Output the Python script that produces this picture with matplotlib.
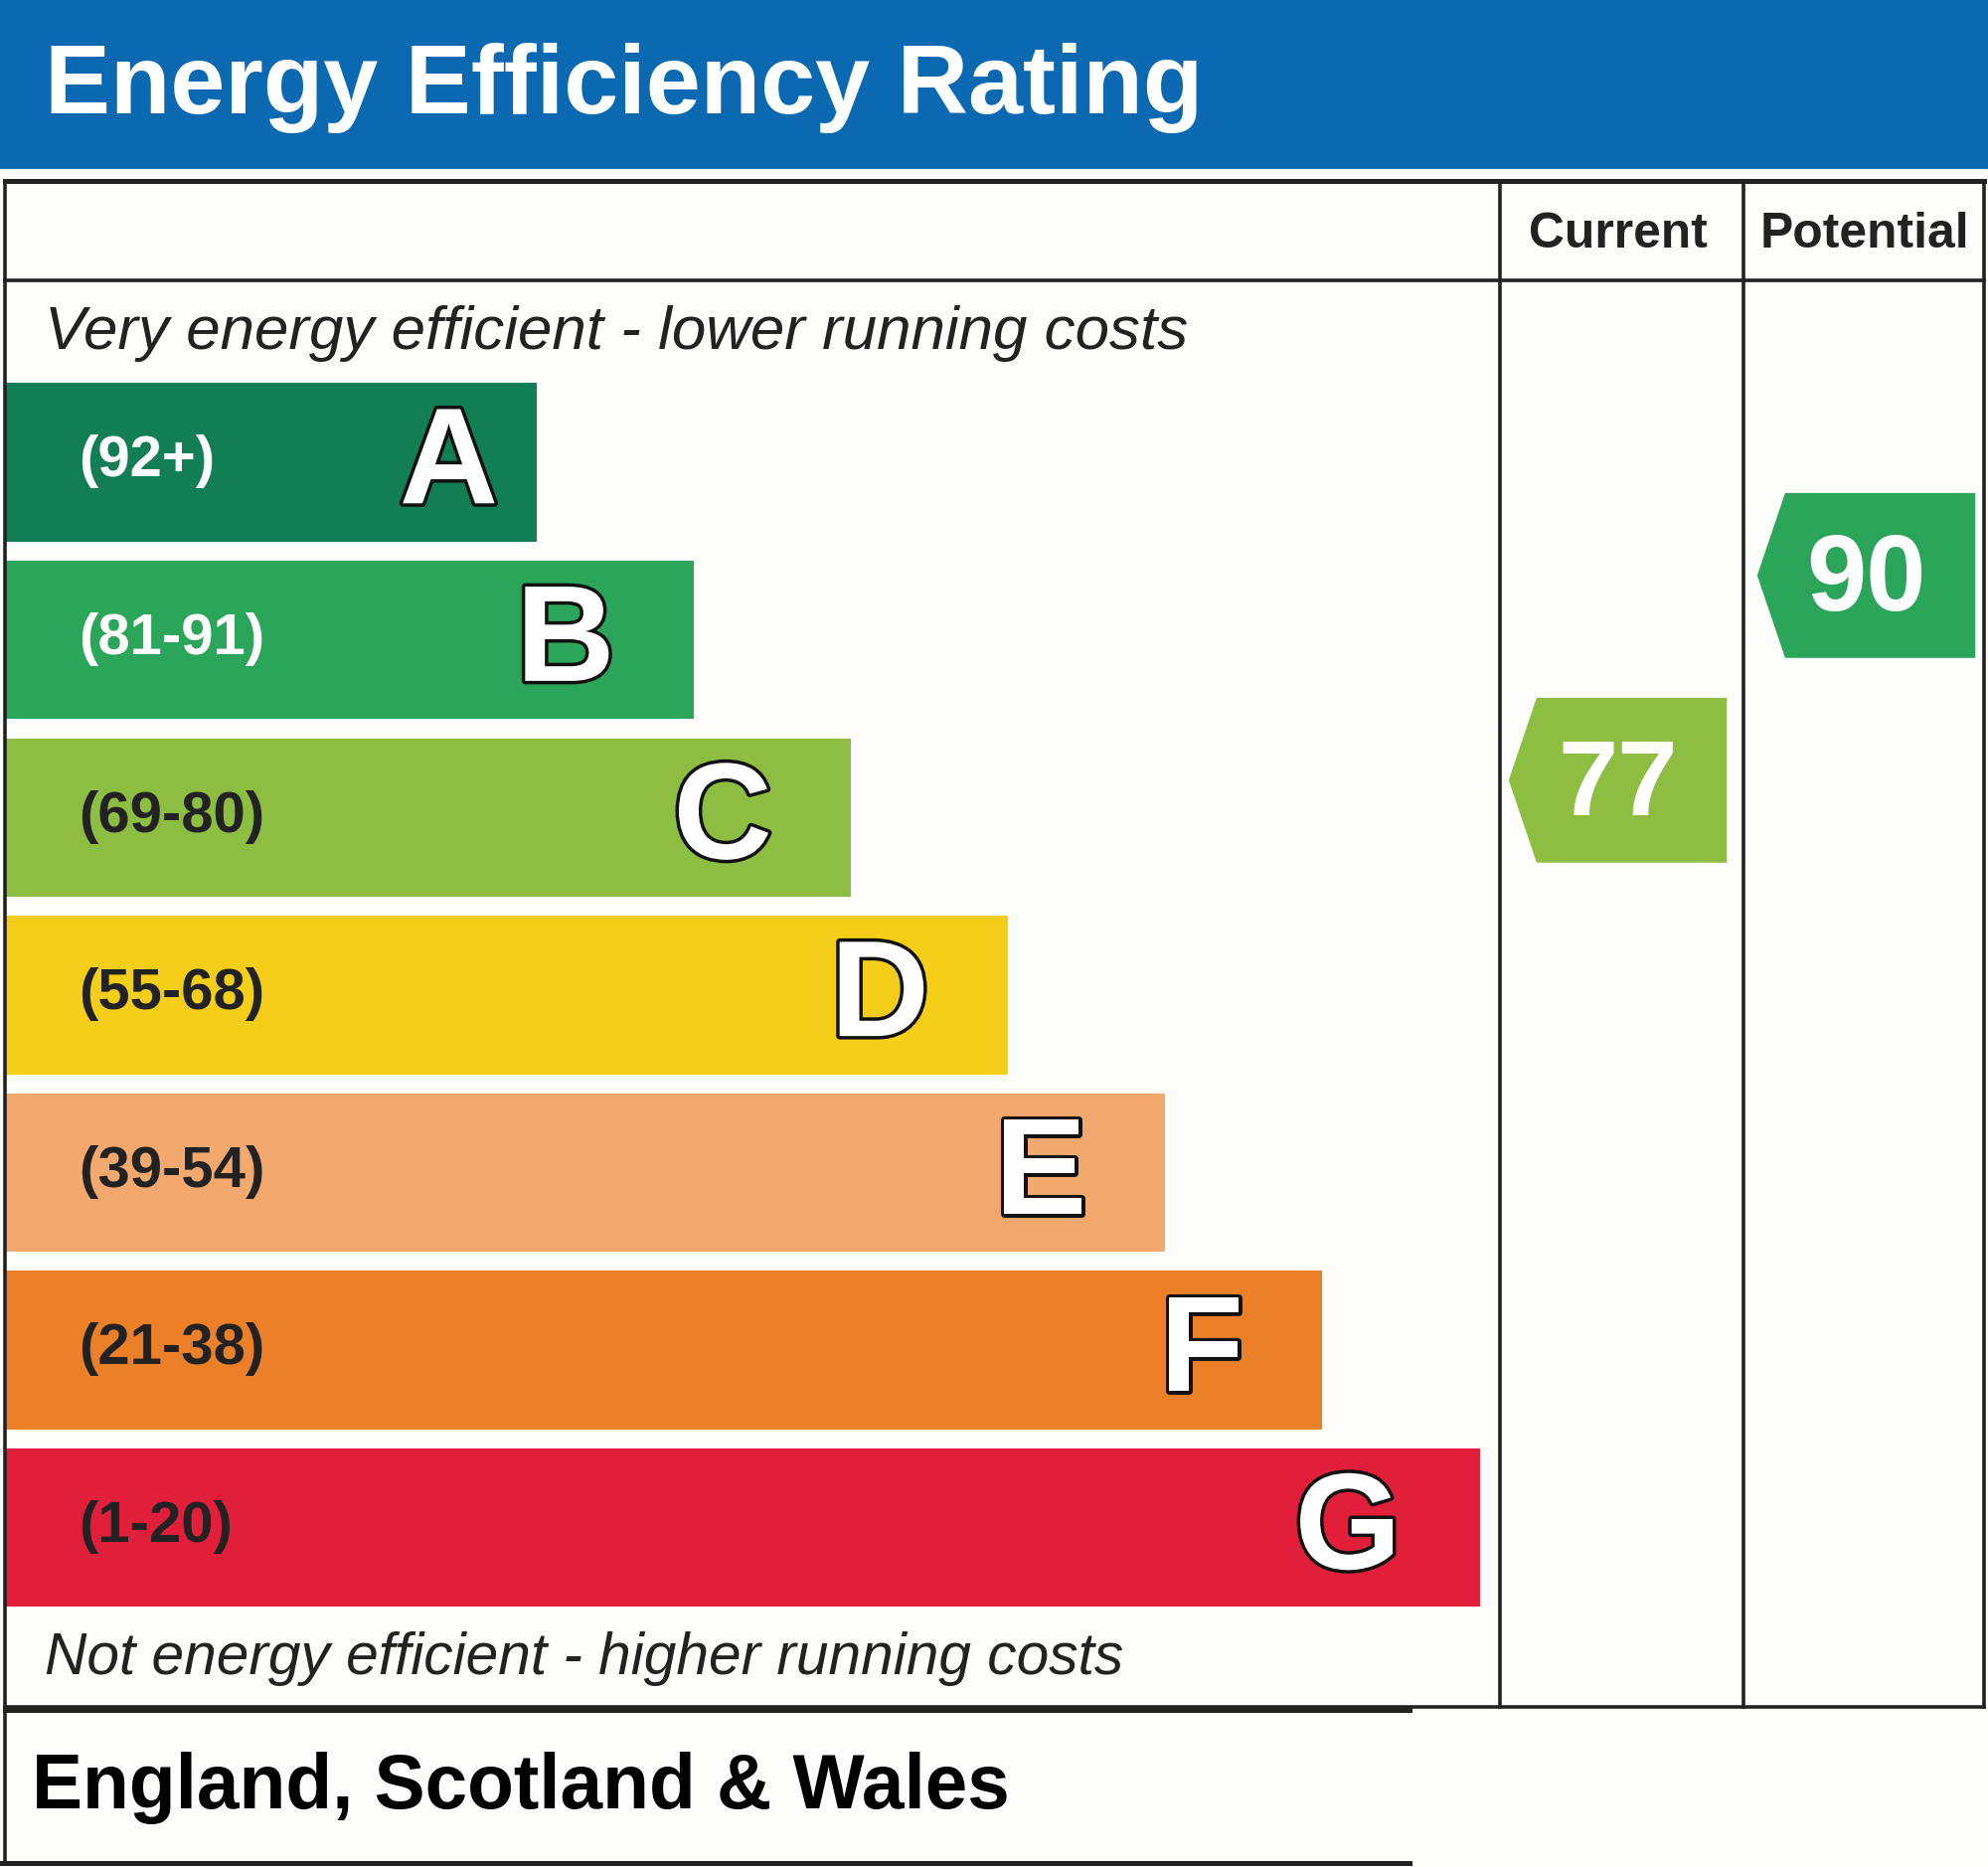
import numpy as np
import matplotlib.pyplot as plt
import matplotlib.patheffects as pe
from matplotlib.patches import Rectangle, Polygon

# data
bands = ['A', 'B', 'C', 'D', 'E', 'F', 'G']
ranges = ['(92+)', '(81-91)', '(69-80)', '(55-68)', '(39-54)', '(21-38)', '(1-20)']
band_colors = ['#117e55', '#2aa55a', '#8dbd41', '#f5ce1a', '#f3a96e', '#ec8029', '#e11f3b']
label_colors = ['white', 'white', '#222222', '#222222', '#222222', '#222222', '#222222']
current_score = 77
potential_score = 90
current_color = '#8dbd41'
potential_color = '#2aa55a'

W, H = 1568, 1472          # drawing units (reference scaled)
S = 2000 / W               # px per unit
FONT = ['Liberation Sans', 'DejaVu Sans']


def pt(units):
    # text size in points from height in drawing units (em)
    return units * S * 0.72


def score_y(score):
    # centre of the score arrow, linear in the rating
    return 1571.5 - 12.42 * score


def arrow(ax, x0, x1, score, color):
    yc = score_y(score)
    h = 130
    top, bot = yc - h / 2, yc + h / 2
    pts = [(x0 + 22, top), (x1, top), (x1, bot), (x0 + 22, bot), (x0, yc)]
    ax.add_patch(Polygon(pts, closed=True, facecolor=color, edgecolor='none'))
    ax.text((x0 + x1) / 2, yc + 6, str(score), color='white', fontsize=pt(85),
            fontweight='bold', family=FONT, ha='center', va='center')


fig = plt.figure(figsize=(20, 18.78), dpi=100)
ax = fig.add_axes([0, 0, 1, 1])
ax.set_xlim(0, W)
ax.set_ylim(H, 0)
ax.axis('off')
fig.patch.set_facecolor('#fdfdfb')

# title bar
ax.add_patch(Rectangle((0, 0), W, 133, facecolor='#0b69b2', edgecolor='none'))
ax.text(35, 69, 'Energy Efficiency Rating', color='white', fontsize=pt(77.5),
        fontweight='bold', family=FONT, ha='left', va='center')

# table frame
lw = 2.6
ax.plot([4, 1565], [143, 143], color='#222222', lw=lw + 1)
ax.plot([4, 1565], [221, 221], color='#222222', lw=lw)
ax.plot([4, 1565], [1346, 1346], color='#222222', lw=lw)
ax.plot([4, 4], [143, 1470], color='#222222', lw=lw)
ax.plot([1565, 1565], [143, 1346], color='#222222', lw=lw)
ax.plot([1183, 1183], [143, 1346], color='#222222', lw=lw)
ax.plot([1375, 1375], [143, 1346], color='#222222', lw=lw)
ax.plot([4, 1112], [1348, 1348], color='#222222', lw=lw + 1)
ax.plot([0, 1112], [1469, 1469], color='#222222', lw=lw + 1)

ax.text(1276, 185, 'Current', color='#222222', fontsize=pt(39), fontweight='bold',
        family=FONT, ha='center', va='center')
ax.text(1471, 185, 'Potential', color='#222222', fontsize=pt(39), fontweight='bold',
        family=FONT, ha='center', va='center')

ax.text(35, 263, 'Very energy efficient - lower running costs', color='#222222',
        fontsize=pt(48.5), style='italic', family=FONT, ha='left', va='center')
ax.text(35, 1308, 'Not energy efficient - higher running costs', color='#222222',
        fontsize=pt(46), style='italic', family=FONT, ha='left', va='center')

# bands
outline = [pe.withStroke(linewidth=5, foreground='#111111')]
for i, (b, r, c, lc) in enumerate(zip(bands, ranges, band_colors, label_colors)):
    top = 302 + 140 * i
    right = 423 + 124 * i
    gap = 30 if i == 0 else 62
    ax.add_patch(Rectangle((5, top), right - 5, 125, facecolor=c, edgecolor='none'))
    ax.text(62, top + 62, r, color=lc, fontsize=pt(45.5), fontweight='bold',
            family=FONT, ha='left', va='center')
    ax.text(right - gap, top + 67, b, color='white', fontsize=pt(108), fontweight='bold',
            family=FONT, ha='right', va='center', path_effects=outline)

# score arrows
arrow(ax, 1190, 1362, current_score, current_color)
arrow(ax, 1386, 1558, potential_score, potential_color)

ax.text(25, 1410, 'England, Scotland & Wales', color='black', fontsize=pt(60),
        fontweight='bold', family=FONT, ha='left', va='center')

fig.savefig('out.png', dpi=100, facecolor=fig.get_facecolor())
